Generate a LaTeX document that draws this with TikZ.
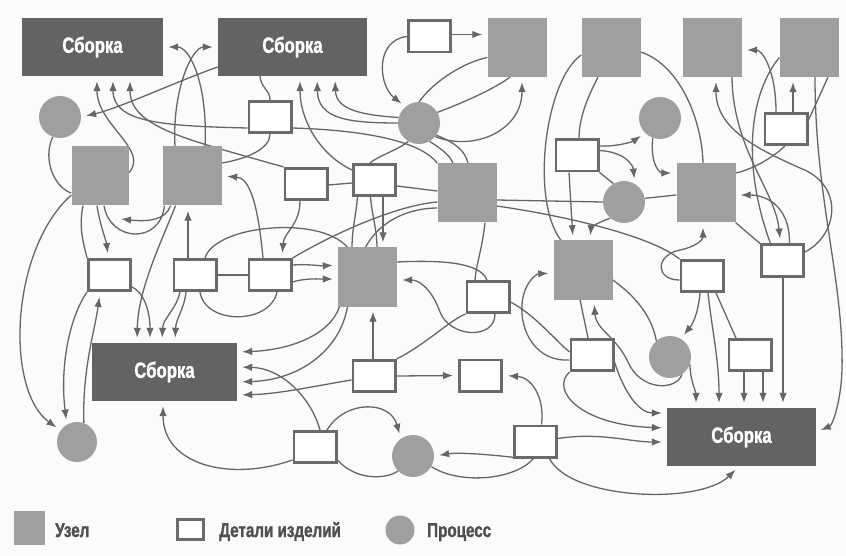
\documentclass[tikz,border=0pt]{standalone}
\usepackage{fontspec}
\newfontfamily\condf{Liberation Sans}[FakeStretch=0.76,BoldFeatures={FakeBold=1.2}]
\usetikzlibrary{arrows.meta}
\definecolor{bgc}{HTML}{FBFBFB}
\definecolor{asmc}{HTML}{636363}
\definecolor{unitc}{HTML}{9F9F9F}
\definecolor{edgec}{HTML}{6A6A6A}
\definecolor{linec}{HTML}{666666}
\definecolor{txtc}{HTML}{505050}
\pgfdeclarelayer{bg}
\pgfdeclarelayer{wires}
\pgfsetlayers{bg,wires,main}

\begin{document}
\begin{tikzpicture}[x=1pt,y=-1pt,
  asm/.style={fill=asmc, minimum width=#1, minimum height=58pt, inner sep=0pt,
    text=white, font=\condf\bfseries\fontsize{22}{25}\selectfont},
  asm/.default=147pt,
  unit/.style={fill=unitc, minimum width=59pt, minimum height=59pt, inner sep=0pt},
  part/.style={draw=edgec, line width=2.6pt, fill=white, minimum width=42.4pt,
    minimum height=31.4pt, inner sep=0pt},
  proc/.style={circle, fill=unitc, minimum size=42pt, inner sep=0pt},
  legendtext/.style={anchor=base west, inner sep=0pt, text=txtc,
    font=\condf\bfseries\fontsize{20}{23}\selectfont},
  wire/.style={draw=linec, line width=1.3pt},
  arr/.style={wire, -{Latex[length=10pt,width=7.5pt]}, shorten >=5pt}]

\begin{pgfonlayer}{bg}
  \fill[bgc] (0,0) rectangle (846,556);
\end{pgfonlayer}
\useasboundingbox (0,0) rectangle (846,556);

% assemblies
\node[asm=141pt] (A1) at (92.5,47) {Сборка};
\node[asm=149pt] (A2) at (292.5,47) {Сборка};
\node[asm=145pt] (A3) at (164.5,372) {Сборка};
\node[asm=149pt] (A4) at (741.5,437) {Сборка};

% units
\node[unit] (U1) at (517,47.5) {};
\node[unit] (U2) at (611,47.5) {};
\node[unit] (U3) at (712.5,47.5) {};
\node[unit] (U4) at (809,47.5) {};
\node[unit, minimum width=57pt] (U5) at (100,176) {};
\node[unit] (U6) at (192.5,176) {};
\node[unit] (U7) at (467,193) {};
\node[unit] (U8) at (367.5,277) {};
\node[unit] (U9) at (583,270) {};
\node[unit] (U10) at (706,193) {};

% processes
\node[proc] (P1) at (60,117) {};
\node[proc] (P2) at (419,123) {};
\node[proc] (P3) at (660,118) {};
\node[proc] (P4) at (624,202) {};
\node[proc] (P5) at (670,357) {};
\node[proc, minimum size=40pt] (P6) at (77,442) {};
\node[proc] (P7) at (413,456) {};

% parts
\node[part] (R1) at (429.5,36.5) {};
\node[part] (R2) at (270,117) {};
\node[part] (R3) at (306,184) {};
\node[part] (R4) at (374.5,180) {};
\node[part] (R5) at (577,155.5) {};
\node[part] (R6) at (786,129) {};
\node[part] (R7) at (109.5,275) {};
\node[part] (R8) at (195,275) {};
\node[part] (R9) at (270,275) {};
\node[part] (R10) at (488,297) {};
\node[part] (R11) at (702,276) {};
\node[part] (R12) at (782.5,260.5) {};
\node[part] (R13) at (374,376) {};
\node[part] (R14) at (480.5,375.5) {};
\node[part] (R15) at (592,355) {};
\node[part] (R16) at (750,355) {};
\node[part] (R17) at (315,447) {};
\node[part] (R18) at (535.5,441.5) {};

% legend
\node[unit, minimum width=31pt, minimum height=34pt] (LU) at (29.5,528) {};
\node[legendtext] (LUt) at (55,537) {Узел};
\node[part, minimum width=26.4pt, minimum height=20.4pt] (LP) at (190.5,529.5) {};
\node[legendtext] (LPt) at (219,537) {Детали изделий};
\node[proc, minimum size=29pt] (LC) at (400,530) {};
\node[legendtext] (LCt) at (427,537) {Процесс};

\coordinate (u6tip) at (121,219);

\begin{pgfonlayer}{wires}
% upper left
\draw[arr] ([yshift=3pt]U5.east) .. controls (150,150) and (97,125) .. ([xshift=4.5pt]A1.south);
\draw[arr] ([yshift=-11pt]R2.west) .. controls (160,126) and (113,122) .. ([xshift=20.5pt]A1.south);
\draw[arr] (R3.north west) .. controls (190,140) and (130,128) .. ([xshift=37.5pt]A1.south);
\draw[arr] ([xshift=12.5pt]U6.north) .. controls (208,85) and (190,47) .. (A1.east);
\draw[arr] ([xshift=-17.5pt]U6.north) .. controls (172,90) and (192,47) .. (A2.west);
\draw[arr] ([yshift=-20pt]A2.west) .. controls (180,80) and (120,108) .. (P1.east);
\draw[wire] ([xshift=-32.5pt]A2.south) .. controls (261,88) and (270,90) .. (R2.north);
\draw[arr] ([yshift=10pt]R4.west) .. controls (320,155) and (300,120) .. ([xshift=7.5pt]A2.south);
\draw[arr] (P2.west) .. controls (345,123) and (318,118) .. ([xshift=24.5pt]A2.south);
\draw[arr] (P2.165) .. controls (362,115) and (336,110) .. ([xshift=42.5pt]A2.south);

% around the first unit
\draw[arr] ([yshift=2pt]R1.east) -- ([yshift=13pt]U1.west);
\draw[arr] (R1.west) .. controls (375,40) and (378,85) .. (P2.130);
\draw[wire] (P2.north) .. controls (435,80) and (465,62) .. ([yshift=-10pt]U1.west);
\draw[wire] (P2.30) .. controls (470,100) and (495,88) .. ([xshift=-7pt]U1.south);
\draw[arr] (P2.-40) .. controls (475,152) and (522,130) .. ([xshift=5pt]U1.south);
\draw[wire] (P2.-120) .. controls (398,150) and (378,156) .. ([xshift=-4.5pt]R4.north);
\draw[wire] (P2.-60) .. controls (440,148) and (450,155) .. ([xshift=-14pt]U7.north);
\draw[wire] (P2.-35) .. controls (455,143) and (465,150) .. ([xshift=1pt]U7.north);
\draw[wire] ([yshift=-11pt]R2.east) .. controls (360,130) and (420,140) .. (U7.north west);
\draw[wire] ([yshift=13pt]U6.east) .. controls (250,158) and (270,148) .. (R2.south);

% left column
\draw[wire] (P1.-110) .. controls (42,160) and (55,188) .. ([yshift=-17pt]U5.west);
\draw[arr] ([yshift=-19pt]U5.west) .. controls (10,250) and (5,390) .. (P6.145);
\draw[wire] ([xshift=-17pt]U5.south) .. controls (78,230) and (85,248) .. (R7.north west);
\draw[arr] ([xshift=-3pt]U5.south) .. controls (100,225) and (106,240) .. ([xshift=-1pt]R7.north);
\draw[wire] ([xshift=4pt]U5.south) .. controls (110,242) and (160,245) .. ([xshift=-28pt]U6.south);
\draw[arr, shorten >=0pt] ([xshift=-22pt]U6.south) .. controls (166,220) and (148,222) .. (u6tip);
\draw[arr] ([xshift=-17pt]U6.south) .. controls (160,245) and (138,290) .. ([xshift=-27.5pt]A3.north);
\draw[arr] ([yshift=-12pt]R7.east) .. controls (146,294) and (150,315) .. ([xshift=-14.5pt]A3.north);
\draw[arr] ([xshift=-15pt]R8.south) .. controls (176,310) and (163,318) .. ([xshift=-2.5pt]A3.north);
\draw[arr] ([xshift=-9pt]R8.south) .. controls (184,310) and (176,318) .. ([xshift=10.5pt]A3.north);
\draw[arr] ([xshift=-7pt]R8.north) -- ([xshift=-4.5pt]U6.south);
\draw[wire] ([xshift=5pt]R8.south) .. controls (205,325) and (270,325) .. ([xshift=7pt]R9.south);
\draw[wire] (R8.east) -- (R9.west);
\draw[wire] ([xshift=10pt]R8.north) .. controls (215,225) and (320,215) .. ([xshift=-20pt]U8.north);
\draw[arr] ([xshift=-7pt]R9.north) .. controls (258,205) and (250,178) .. (U6.east);
\draw[arr] ([xshift=-6pt]R3.south) .. controls (300,225) and (284,232) .. ([xshift=12pt]R9.north);
\draw[arr] ([yshift=10pt]R9.east) .. controls (310,264) and (320,266) .. ([yshift=12pt]U8.west);
\draw[arr] ([yshift=-7pt]R9.east) .. controls (305,278) and (320,279) .. ([yshift=-2pt]U8.west);
\draw[wire] (R9.north east) .. controls (340,230) and (400,205) .. ([yshift=-9pt]U7.west);
\draw[wire] ([xshift=-2pt]U8.north) .. controls (380,220) and (410,208) .. ([yshift=-15pt]U7.west);
\draw[wire] ([yshift=-1pt]R3.east) -- ([yshift=-3pt]R4.west);
\draw[wire] ([yshift=-6pt]R4.east) -- ([yshift=2pt]U7.west);
\draw[wire] ([xshift=-17pt]R4.south) .. controls (356,215) and (352,230) .. ([xshift=-15.5pt]U8.north);
\draw[wire] ([xshift=-4pt]R4.south) .. controls (372,215) and (377,230) .. ([xshift=9.5pt]U8.north);
\draw[arr] ([xshift=8.5pt]R4.south) -- ([xshift=15.5pt]U8.north);
\draw[arr] (P6.70) .. controls (82,370) and (95,330) .. ([xshift=-9.5pt]R7.south);
\draw[arr] (R7.south west) .. controls (68,320) and (60,370) .. (P6.120);

% centre
\draw[wire] ([yshift=15pt]U8.east) .. controls (440,260) and (480,262) .. ([xshift=-1pt]R10.north);
\draw[wire] ([xshift=18pt]U7.south) .. controls (482,250) and (476,265) .. ([xshift=-13pt]R10.north);
\draw[arr] ([xshift=7pt]R10.south) .. controls (495,340) and (450,338) .. (440,312)
  .. controls (432,290) and (420,280) .. ([yshift=-3pt]U8.east);
\draw[wire] (R13.north east) .. controls (425,345) and (450,320) .. (R10.south west);
\draw[arr] ([xshift=-1pt]R13.north) -- ([xshift=5.5pt]U8.south);
\draw[arr] (R13.east) -- (R14.west);
\draw[arr] ([yshift=-4pt]R13.west) .. controls (320,385) and (280,394) .. ([yshift=-23pt]A3.east);
\draw[arr] ([xshift=-28pt]U8.south) .. controls (330,335) and (290,350) .. ([yshift=20pt]A3.east);
\draw[arr] ([xshift=-20pt]U8.south) .. controls (340,350) and (300,380) .. ([yshift=-10pt]A3.east);
\draw[arr] ([xshift=5pt]R17.north) .. controls (310,395) and (280,368) .. ([yshift=5pt]A3.east);
\draw[arr] ([yshift=-13pt]R17.west) .. controls (230,482) and (163,465) .. ([xshift=-1.5pt]A3.south);
\draw[arr] ([xshift=12pt]R17.north) .. controls (345,400) and (390,400) .. (P7.125);
\draw[wire] ([yshift=-13pt]R17.east) .. controls (355,480) and (385,480) .. (P7.-135);
\draw[arr] ([xshift=-12pt]R18.south) .. controls (495,455) and (460,452) .. (P7.east);
\draw[wire] (P7.-30) .. controls (460,485) and (515,480) .. ([xshift=-2pt]R18.south);
\draw[arr] ([xshift=6pt]R18.north) .. controls (545,395) and (530,377) .. (R14.east);
\draw[arr] ([yshift=3pt]R18.east) .. controls (600,432) and (630,442) .. ([yshift=-5pt]A4.west);
\draw[arr] ([xshift=14pt]R18.south) .. controls (570,500) and (700,505) .. ([xshift=-2.5pt]A4.south);

% right half
\draw[arr] ([yshift=-7pt]R15.east) .. controls (625,395) and (640,413) .. ([yshift=24pt]A4.west);
\draw[wire] ([yshift=-5pt]R10.east) .. controls (535,315) and (555,340) .. ([yshift=3pt]R15.west);
\draw[arr] (R15.south west) .. controls (550,390) and (580,425) .. ([yshift=9pt]A4.west);
\draw[arr] ([yshift=-5pt]R15.west) .. controls (535,362) and (520,330) .. (522,305)
  .. controls (523,285) and (535,274) .. ([yshift=-3pt]U9.west);
\draw[wire] ([xshift=-3pt]U9.south) -- ([xshift=-4pt]R15.north);
\draw[arr] (P5.-55) .. controls (675,392) and (640,390) .. (628,362)
  .. controls (615,335) and (596,330) .. ([xshift=11pt]U9.south);
\draw[wire] ([yshift=-10pt]U9.east) .. controls (638,298) and (652,318) .. (P5.130);
\draw[arr] ([xshift=-8pt]R5.south) -- ([xshift=-10pt]U9.north);
\draw[arr] (P4.-130) .. controls (598,222) and (591,228) .. ([xshift=7pt]U9.north);
\draw[wire] ([yshift=-7.5pt]U2.west) .. controls (545,80) and (530,200) .. ([xshift=-22pt]U9.north);
\draw[wire] ([xshift=-13pt]U2.south) .. controls (586,100) and (579,120) .. ([xshift=2pt]R5.north);
\draw[wire] ([yshift=-4.5pt]U2.east) .. controls (680,65) and (702,120) .. ([xshift=-3pt]U10.north);
\draw[arr] ([yshift=9.5pt]R5.east) .. controls (615,147) and (632,142) .. (P3.-135);
\draw[arr] ([yshift=5pt]R5.east) .. controls (625,152) and (633,165) .. (P4.60);
\draw[wire] (R5.south east) -- (P4.120);
\draw[arr] (P3.-110) .. controls (650,165) and (660,173) .. ([yshift=20pt]U10.west);
\draw[wire] (P4.10) -- ([yshift=-2pt]U10.west);
\draw[wire] ([yshift=-7pt]U7.east) -- (P4.west);
\draw[wire] ([yshift=-13pt]U7.east) .. controls (560,215) and (650,235) .. (R11.north west);
\draw[arr] ([yshift=-4pt]R11.west) .. controls (655,280) and (655,255) .. (680,250)
  .. controls (695,247) and (703,240) .. ([xshift=-3pt]U10.south);
\draw[wire] (U10.south east) -- (R12.north west);
\draw[arr] ([xshift=7pt]R12.north) .. controls (790,205) and (765,195) .. ([yshift=-2pt]U10.east);
\draw[wire] ([xshift=-1pt]R6.south) .. controls (770,160) and (750,170) .. ([yshift=20pt]U10.east);
\draw[arr] ([xshift=-10pt]R6.north) .. controls (776,70) and (762,50) .. ([yshift=-2.5pt]U3.east);
\draw[arr] ([xshift=7pt]R6.north) -- ([xshift=-16pt]U4.south);
\draw[wire] ([xshift=19pt]U4.south) -- ([yshift=9pt]R6.east);
\draw[arr] ([yshift=8.5pt]R12.east) .. controls (838,235) and (845,185) .. (800,168)
  .. controls (760,150) and (716,130) .. ([xshift=3.5pt]U3.south);
\draw[arr] ([xshift=19.5pt]U3.south) .. controls (733,150) and (775,190) .. ([xshift=-2pt]R12.north);
\draw[wire] ([yshift=-10pt]U4.west) .. controls (745,100) and (745,175) .. ([xshift=-12pt]R12.north);
\draw[arr] ([xshift=6pt]U4.south) .. controls (815,200) and (844,280) .. (842,370)
  .. controls (841,400) and (833,425) .. ([yshift=5pt]A4.east);
\draw[arr] ([xshift=-2pt]R11.south) .. controls (698,315) and (692,325) .. (P5.60);
\draw[arr] ([xshift=6pt]R11.south) .. controls (712,330) and (719,360) .. ([xshift=-22.5pt]A4.north);
\draw[wire] ([xshift=14pt]R11.south) -- ([xshift=-14pt]R16.north);
\draw[arr] ([xshift=-6pt]R16.south) -- ([xshift=2.5pt]A4.north);
\draw[arr] ([xshift=13pt]R16.south) -- ([xshift=21.5pt]A4.north);
\draw[arr] ([xshift=0.5pt]R12.south) -- ([xshift=41.5pt]A4.north);
\draw[arr] (P5.-20) .. controls (690,380) and (696,392) .. ([xshift=-45.5pt]A4.north);
\end{pgfonlayer}
\end{tikzpicture}
\end{document}
